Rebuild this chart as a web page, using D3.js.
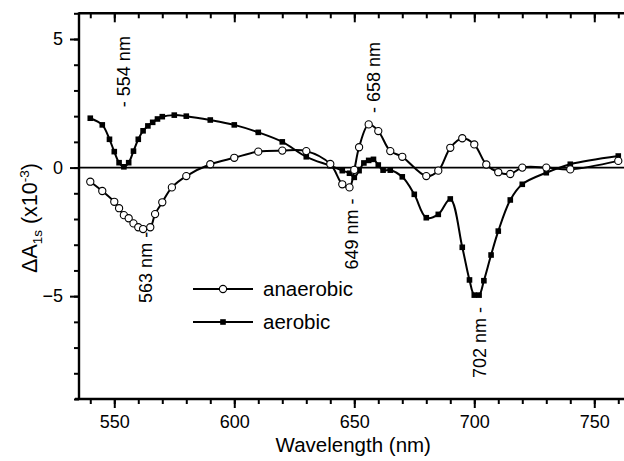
<!DOCTYPE html>
<html>
<head>
<meta charset="utf-8">
<script src="https://cdn.jsdelivr.net/npm/d3@7"></script>
<style>
  body { margin: 0; background: #fff; }
  svg { display: block; font-family: "Liberation Sans", Arial, sans-serif; }
</style>
</head>
<body>
<script>
// data: wavelength (nm) and dA (x10^-3)
var anaWl  = [540, 545, 550, 552, 554, 556, 558, 560, 562, 565, 567, 570, 574, 580, 590, 600, 610, 620, 630,
              640, 645, 648, 650, 652, 656, 660, 665, 670, 680, 685, 690, 695, 700, 705, 710, 715, 720, 730, 740, 760];
var anaVal = [-0.55, -0.91, -1.33, -1.58, -1.85, -1.97, -2.17, -2.32, -2.39, -2.32, -1.81, -1.35, -0.77, -0.33, 0.13, 0.38, 0.62, 0.66, 0.64,
              0.14, -0.65, -0.77, -0.09, 0.79, 1.68, 1.42, 0.64, 0.42, -0.33, -0.12, 0.77, 1.14, 0.90, 0.12, -0.18, -0.25, 0.0, 0.0, -0.07, 0.26];

var aerWl  = [540, 545, 548, 550, 552, 554, 556, 558, 560, 562, 564, 566, 568, 570, 575, 580, 590, 600, 610, 620, 630,
              640, 645, 648, 650, 652, 654, 656, 658, 660, 662, 665, 670, 675, 680, 685, 690, 695, 698, 700, 702, 704, 707,
              710, 715, 720, 730, 740, 760];
var aerVal = [1.92, 1.66, 1.10, 0.62, 0.19, 0.03, 0.19, 0.64, 1.10, 1.43, 1.62, 1.76, 1.89, 1.98, 2.04, 2.00, 1.85, 1.66, 1.37, 1.00, 0.42,
              0.07, -0.12, -0.22, -0.38, -0.12, 0.18, 0.28, 0.32, 0.10, -0.10, -0.10, -0.36, -1.04, -1.95, -1.82, -1.22, -3.10, -4.37, -4.96, -4.96, -4.40, -3.40,
              -2.47, -1.26, -0.65, -0.20, 0.13, 0.45];

var xTicks = [550, 600, 650, 700, 750];
var yTicks = [5, 0, -5];

// peak labels: text, wavelength, value where the dash end sits, which end
var peakText = ["- 554 nm", "563 nm -", "649 nm -", "- 658 nm", "702 nm -"];
var peakWl   = [554, 563, 649, 658, 702];
var peakVal  = [2.35, -2.5, -1.2, 2.12, -5.42];
var peakEnd  = ["start", "end", "end", "start", "end"];

var legendNames = ["anaerobic", "aerobic"];

var w = 624, h = 461;
var padLeft = 79, padTop = 13.3, padBottom = 399;

var xScale = d3.scaleLinear().domain([535.3, 765]).range([padLeft, padLeft + 229.7 * 2.4]);
var yScale = d3.scaleLinear().domain([-9, 6]).range([padBottom, padTop]);

var svg = d3.select("body").append("svg")
    .attr("width", w)
    .attr("height", h);

var lineGen = d3.line()
    .x(function(d) { return xScale(d[0]); })
    .y(function(d) { return yScale(d[1]); })
    .curve(d3.curveCatmullRom.alpha(0.5));

var ana = anaWl.map(function(d, i) { return [d, anaVal[i]]; });
var aer = aerWl.map(function(d, i) { return [d, aerVal[i]]; });

// zero line
svg.append("line")
    .attr("x1", padLeft).attr("x2", w)
    .attr("y1", yScale(0)).attr("y2", yScale(0))
    .attr("stroke", "#000").attr("stroke-width", 1.6);

// curves
[aer, ana].forEach(function(s) {
  svg.append("path")
      .attr("d", lineGen(s))
      .attr("fill", "none")
      .attr("stroke", "#000")
      .attr("stroke-width", 2);
});

svg.selectAll("rect.aer")
    .data(aer)
    .enter().append("rect")
    .attr("class", "aer")
    .attr("x", function(d) { return xScale(d[0]) - 2.8; })
    .attr("y", function(d) { return yScale(d[1]) - 2.8; })
    .attr("width", 5.6).attr("height", 5.6)
    .attr("fill", "#000");

svg.selectAll("circle.ana")
    .data(ana)
    .enter().append("circle")
    .attr("class", "ana")
    .attr("cx", function(d) { return xScale(d[0]); })
    .attr("cy", function(d) { return yScale(d[1]); })
    .attr("r", 3.6)
    .attr("fill", "#fff")
    .attr("stroke", "#000")
    .attr("stroke-width", 1.1);

// axes: minor ticks, then major ticks with labels
var minorX = d3.range(540, 770, 10);
var minorY = d3.range(-9, 7, 1);
function noDomain(g) { g.select(".domain").remove(); }

svg.append("g").attr("transform", "translate(0," + padBottom + ")")
    .call(d3.axisBottom(xScale).tickValues(minorX).tickSize(5).tickFormat(""))
    .call(noDomain);
svg.append("g").attr("transform", "translate(0," + padBottom + ")")
    .call(d3.axisBottom(xScale).tickValues(xTicks).tickSize(9).tickPadding(7).tickFormat(d3.format("d")))
    .call(noDomain);

svg.append("g").attr("transform", "translate(0," + padTop + ")")
    .call(d3.axisTop(xScale).tickValues(minorX).tickSize(-5).tickFormat(""))
    .call(noDomain);
svg.append("g").attr("transform", "translate(0," + padTop + ")")
    .call(d3.axisTop(xScale).tickValues(xTicks).tickSize(-9).tickFormat(""))
    .call(noDomain);

svg.append("g").attr("transform", "translate(" + padLeft + ",0)")
    .call(d3.axisLeft(yScale).tickValues(minorY).tickSize(5).tickFormat(""))
    .call(noDomain);
svg.append("g").attr("transform", "translate(" + padLeft + ",0)")
    .call(d3.axisLeft(yScale).tickValues(yTicks).tickSize(9).tickPadding(7).tickFormat(d3.format("d")))
    .call(noDomain);

svg.selectAll(".tick line").attr("stroke-width", 2).attr("stroke", "#000");
svg.selectAll(".tick text").attr("font-size", 18).attr("fill", "#000")
    .attr("font-family", "Liberation Sans, Arial, sans-serif");

// frame lines
svg.append("path")
    .attr("d", "M" + (padLeft - 4) + "," + padBottom + "H" + w +
               "M" + padLeft + "," + padTop + "H" + w +
               "M" + padLeft + "," + (padTop - 1) + "V" + (padBottom + 1))
    .attr("fill", "none").attr("stroke", "#000").attr("stroke-width", 2.4);

// axis titles
svg.append("text")
    .attr("x", xScale(650) - 1).attr("y", 452)
    .attr("text-anchor", "middle")
    .attr("font-size", 20.5)
    .text("Wavelength (nm)");

var yt = svg.append("text")
    .attr("transform", "translate(37,218) rotate(-90)")
    .attr("text-anchor", "middle")
    .attr("font-size", 21.5);
yt.append("tspan").text("\u0394A");
yt.append("tspan").attr("font-size", 13.5).attr("dy", 5).text("1s");
yt.append("tspan").attr("dy", -5).text(" (x10");
yt.append("tspan").attr("font-size", 13.5).attr("dy", -8).text("-3");
yt.append("tspan").attr("dy", 8).text(")");

// peak labels
svg.selectAll("text.peak")
    .data(peakText)
    .enter().append("text")
    .attr("class", "peak")
    .attr("transform", function(d, i) {
      return "translate(" + xScale(peakWl[i]) + "," + yScale(peakVal[i]) + ") rotate(-90)";
    })
    .attr("dy", "0.36em")
    .attr("text-anchor", function(d, i) { return peakEnd[i]; })
    .attr("font-size", 18)
    .text(function(d) { return d; });

// legend
var legend = svg.append("g");
legendNames.forEach(function(name, i) {
  var ly = 289 + i * 33;
  legend.append("line")
      .attr("x1", 193).attr("x2", 253)
      .attr("y1", ly).attr("y2", ly)
      .attr("stroke", "#000").attr("stroke-width", 2);
  if (i === 0) {
    legend.append("circle").attr("cx", 223).attr("cy", ly).attr("r", 3.6)
        .attr("fill", "#fff").attr("stroke", "#000").attr("stroke-width", 1.1);
  } else {
    legend.append("rect").attr("x", 220.2).attr("y", ly - 2.8)
        .attr("width", 5.6).attr("height", 5.6).attr("fill", "#000");
  }
  legend.append("text")
      .attr("x", 263).attr("y", ly).attr("dy", "0.35em")
      .attr("font-size", 20.5)
      .text(name);
});
</script>
</body>
</html>
